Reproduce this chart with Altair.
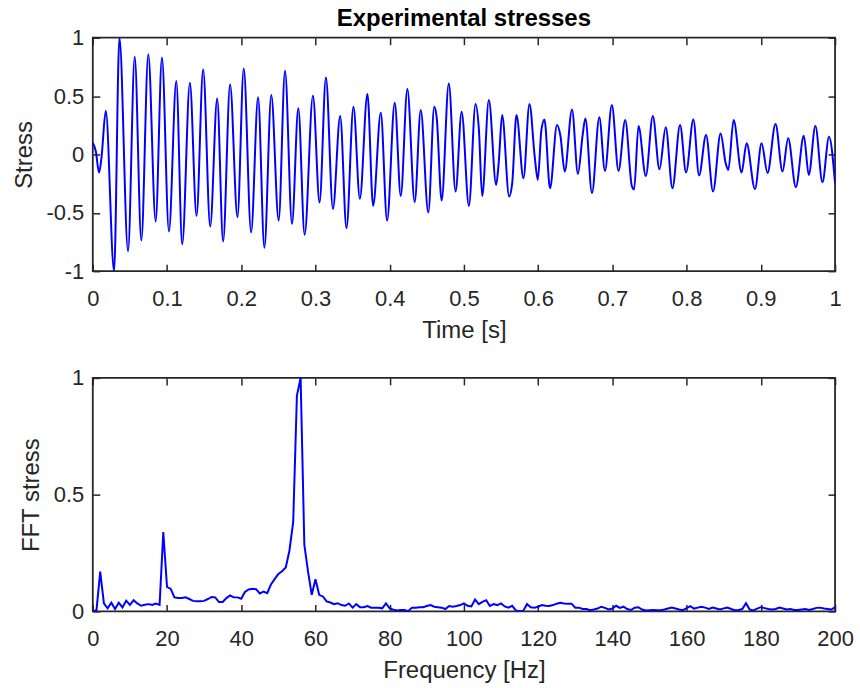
import altair as alt
import pandas as pd

# ---------------- data ----------------
TIME = [0.000, 0.004, 0.0085, 0.0117, 0.0175, 0.0287, 0.0359, 0.0475, 0.0565, 0.0654,
        0.0748, 0.0847, 0.0932, 0.1026, 0.1125, 0.1205, 0.1308, 0.1398, 0.1487, 0.1582,
        0.1676, 0.1756, 0.185, 0.1949, 0.2034, 0.2133, 0.2227, 0.2312, 0.2405, 0.2504,
        0.259, 0.2684, 0.2769, 0.2854, 0.2966, 0.3055, 0.3141, 0.3235, 0.3333, 0.3418,
        0.3512, 0.3598, 0.37, 0.3777, 0.388, 0.3965, 0.4068, 0.4149, 0.4238, 0.4337,
        0.4418, 0.452, 0.4601, 0.4633, 0.47, 0.4796, 0.4888, 0.4969, 0.5067, 0.5157,
        0.5202, 0.5246, 0.5336, 0.5434, 0.547, 0.5515, 0.5609, 0.565, 0.5708, 0.5802,
        0.5883, 0.5954, 0.5995, 0.6044, 0.6085, 0.616, 0.6254, 0.63, 0.6358, 0.6456,
        0.6536, 0.66, 0.6636, 0.6725, 0.6824, 0.69, 0.6993, 0.7083, 0.7173, 0.7262,
        0.7293, 0.7352, 0.745, 0.7545, 0.7634, 0.7719, 0.7809, 0.7912, 0.7993, 0.8091,
        0.8168, 0.8262, 0.8356, 0.8458, 0.8526, 0.8562, 0.8633, 0.8741, 0.8808, 0.8921,
        0.901, 0.909, 0.9198, 0.9292, 0.9368, 0.9472, 0.9579, 0.9646, 0.9735, 0.983,
        0.9919, 1.0]
STRESS = [0.10, 0.03, -0.155, -0.03, 0.375, -1.0, 1.0, -0.83, 0.836, -0.737,
          0.859, -0.574, 0.83, -0.66, 0.63, -0.77, 0.614, -0.526, 0.728, -0.617,
          0.48, -0.745, 0.6, -0.537, 0.737, -0.668, 0.489, -0.80, 0.509, -0.566,
          0.716, -0.594, 0.395, -0.688, 0.503, -0.412, 0.66, -0.466, 0.329, -0.631,
          0.409, -0.38, 0.517, -0.44, 0.357, -0.566, 0.443, -0.355, 0.56, -0.409,
          0.38, -0.497, 0.409, 0.318, -0.395, 0.608, -0.318, 0.366, -0.44, 0.432,
          0.21, -0.355, 0.466, -0.261, -0.06, 0.338, -0.36, -0.25, 0.338, -0.204,
          0.432, -0.02, -0.218, 0.21, 0.30, -0.289, 0.252, 0.16, -0.147, 0.386,
          -0.167, 0.17, 0.309, -0.332, 0.318, -0.141, 0.423, -0.141, 0.295, -0.27,
          -0.30, 0.244, -0.184, 0.329, -0.127, 0.232, -0.289, 0.252, -0.155, 0.30,
          -0.18, 0.167, -0.318, 0.18, -0.075, -0.134, 0.295, -0.155, 0.095, -0.297,
          0.095, -0.158, 0.261, -0.147, 0.138, -0.28, 0.16, -0.175, 0.244, -0.238,
          0.152, -0.245]

FREQ = list(range(201))
FFT = [0.0, 0.005, 0.17, 0.034, 0.013, 0.037, 0.01, 0.037, 0.017, 0.046,
       0.028, 0.048, 0.034, 0.024, 0.028, 0.031, 0.028, 0.034, 0.028, 0.34,
       0.105, 0.096, 0.06, 0.057, 0.057, 0.06, 0.053, 0.045, 0.043, 0.043,
       0.045, 0.053, 0.062, 0.06, 0.04, 0.04, 0.057, 0.068, 0.06, 0.06,
       0.054, 0.083, 0.094, 0.097, 0.095, 0.077, 0.085, 0.078, 0.115, 0.138,
       0.16, 0.172, 0.188, 0.262, 0.383, 0.924, 1.0, 0.286, 0.17, 0.071,
       0.138, 0.071, 0.064, 0.043, 0.038, 0.031, 0.035, 0.027, 0.024, 0.034,
       0.016, 0.031, 0.018, 0.018, 0.023, 0.016, 0.016, 0.016, 0.013, 0.034,
       0.013, 0.007, 0.004, 0.006, 0.006, 0.001, 0.016, 0.016, 0.018, 0.018,
       0.023, 0.027, 0.02, 0.018, 0.016, 0.01, 0.023, 0.02, 0.023, 0.027,
       0.034, 0.024, 0.021, 0.051, 0.031, 0.041, 0.048, 0.023, 0.031, 0.027,
       0.034, 0.021, 0.016, 0.024, 0.004, 0.001, 0.003, 0.031, 0.018, 0.016,
       0.02, 0.027, 0.024, 0.023, 0.027, 0.033, 0.037, 0.034, 0.033, 0.033,
       0.016, 0.016, 0.01, 0.01, 0.005, 0.008, 0.012, 0.02, 0.015, 0.008,
       0.012, 0.024, 0.015, 0.02, 0.01, 0.006, 0.016, 0.018, 0.008, 0.004,
       0.005, 0.006, 0.005, 0.005, 0.008, 0.012, 0.016, 0.012, 0.008, 0.005,
       0.014, 0.022, 0.012, 0.016, 0.02, 0.016, 0.01, 0.016, 0.012, 0.008,
       0.013, 0.016, 0.01, 0.005, 0.006, 0.01, 0.035, 0.008, 0.004, 0.012,
       0.018, 0.014, 0.01, 0.008, 0.01, 0.016, 0.012, 0.008, 0.01, 0.006,
       0.006, 0.008, 0.01, 0.006, 0.01, 0.015, 0.016, 0.012, 0.01, 0.008,
       0.018]

X1_TICKS = [0, 0.1, 0.2, 0.3, 0.4, 0.5, 0.6, 0.7, 0.8, 0.9, 1]
Y1_TICKS = [-1, -0.5, 0, 0.5, 1]
X2_TICKS = [0, 20, 40, 60, 80, 100, 120, 140, 160, 180, 200]
Y2_TICKS = [0, 0.5, 1]

# ---------------- styling ----------------
AX = "#262626"
FONT = "Liberation Sans"
W, H = 744, 234
TICK = 7
LBL = "datum.value + ''"


def panel(df, xf, yf, xdom, ydom, xticks, yticks, xtitle, ytitle, interp):
    xs = alt.Scale(domain=xdom, nice=False, zero=False)
    ys = alt.Scale(domain=ydom, nice=False, zero=False)
    base = alt.Chart(df)
    main = base.mark_line(color="#0000FF", strokeWidth=2, interpolate=interp, clip=True).encode(
        x=alt.X(f"{xf}:Q", scale=xs,
                axis=alt.Axis(values=xticks, title=xtitle, orient="bottom", offset=-TICK,
                              tickSize=TICK, labelPadding=17.5, titlePadding=9,
                              labelExpr=LBL, labelFlush=False)),
        y=alt.Y(f"{yf}:Q", scale=ys,
                axis=alt.Axis(values=yticks, title=ytitle, orient="left", offset=-TICK,
                              tickSize=TICK, labelPadding=9, titlePadding=10,
                              labelExpr=LBL, labelFlush=False)),
    )
    ghost = base.mark_line(opacity=0).encode(
        x=alt.X(f"{xf}:Q", scale=xs,
                axis=alt.Axis(values=xticks, title=None, orient="top", offset=-TICK,
                              tickSize=TICK, labels=False)),
        y=alt.Y(f"{yf}:Q", scale=ys,
                axis=alt.Axis(values=yticks, title=None, orient="right", offset=-TICK,
                              tickSize=TICK, labels=False)),
    )
    return alt.layer(main, ghost).resolve_axis(x="independent", y="independent").properties(
        width=W, height=H)


top_df = pd.DataFrame({"t": TIME, "s": STRESS})
bot_df = pd.DataFrame({"f": FREQ, "a": FFT})

top = panel(top_df, "t", "s", [0, 1], [-1, 1], X1_TICKS, Y1_TICKS,
            "Time [s]", "Stress", "monotone").properties(
    title=alt.TitleParams("Experimental stresses", font=FONT, fontSize=24, fontWeight="bold",
                          color="#000000", anchor="middle", offset=-4.5))
bottom = panel(bot_df, "f", "a", [0, 200], [0, 1], X2_TICKS, Y2_TICKS,
               "Frequency [Hz]", "FFT stress", "linear")

chart = alt.vconcat(top, bottom, spacing=107, bounds="flush").properties(
    padding={"left": 11, "top": 5, "right": 5, "bottom": 5},
    background="#ffffff",
).configure_axis(
    domain=False, grid=False,
    tickColor=AX, tickWidth=1.5,
    labelColor=AX, labelFont=FONT, labelFontSize=22,
    titleColor=AX, titleFont=FONT, titleFontSize=24, titleFontWeight="normal",
).configure_view(stroke=AX, strokeWidth=1.8)

chart.save("out.html", embed_options={"renderer": "svg", "actions": False})
